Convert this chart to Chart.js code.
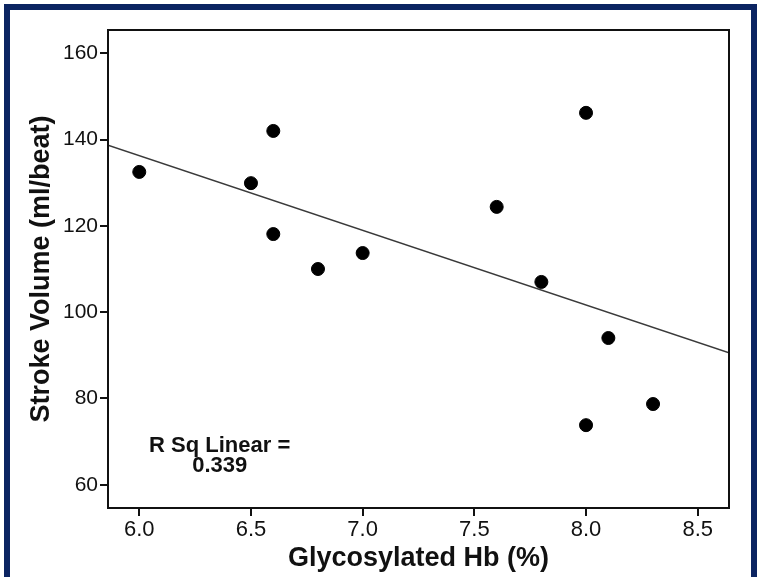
<!DOCTYPE html>
<html>
<head>
<meta charset="utf-8">
<script src="https://cdn.jsdelivr.net/npm/chart.js@4"></script>
<style>
  html, body { margin: 0; padding: 0; background: #ffffff; }
  #wrap { position: relative; width: 761px; height: 577px; overflow: hidden; }
  #c { position: absolute; left: 0; top: 0; }
  #frame { position: absolute; left: 4px; top: 4px; width: 741px; height: 569px;
           border: 6px solid #0b2461; pointer-events: none; }
</style>
</head>
<body>
<div id="wrap">
  <canvas id="c" width="761" height="577"></canvas>
  <div id="frame"></div>
</div>
<script>
// Data
const hbValues = [6.0, 6.5, 6.6, 6.6, 6.8, 7.0, 7.6, 7.8, 8.0, 8.1, 8.0, 8.3];
const strokeVolume = [132.5, 129.9, 142.0, 118.1, 110.0, 113.7, 124.4, 107.0, 146.2, 94.0, 73.8, 78.7];
// Fit line endpoints (read at the plot edges)
const fitX = [5.86, 8.64];
const fitY = [138.7, 90.6];
const xTicks = [6.0, 6.5, 7.0, 7.5, 8.0, 8.5];
const yTicks = [60, 80, 100, 120, 140, 160];
const xTitle = 'Glycosylated Hb (%)';
const yTitle = 'Stroke Volume (ml/beat)';
const annotationLines = ['R Sq Linear =', '0.339'];
const annotationX = 6.36;
const annotationY = [69.0, 64.3];

const points = hbValues.map((x, i) => ({ x: x, y: strokeVolume[i] }));
const fitPoints = fitX.map((x, i) => ({ x: x, y: fitY[i] }));

const boxPlugin = {
  id: 'box',
  afterDraw(chart) {
    const { ctx, chartArea: a } = chart;
    ctx.save();
    ctx.strokeStyle = '#111';
    ctx.lineWidth = 2;
    ctx.strokeRect(a.left, a.top, a.right - a.left, a.bottom - a.top);
    ctx.restore();
  }
};

const annotationPlugin = {
  id: 'rsq',
  afterDatasetsDraw(chart) {
    const { ctx, scales } = chart;
    ctx.save();
    ctx.fillStyle = '#111';
    ctx.font = 'bold 22px "Liberation Sans", Arial, sans-serif';
    ctx.textAlign = 'center';
    ctx.textBaseline = 'middle';
    const px = scales.x.getPixelForValue(annotationX);
    annotationLines.forEach((t, i) => {
      ctx.fillText(t, px, scales.y.getPixelForValue(annotationY[i]));
    });
    ctx.restore();
  }
};

new Chart(document.getElementById('c'), {
  type: 'scatter',
  data: {
    datasets: [
      {
        label: 'Fit',
        type: 'line',
        data: fitPoints,
        borderColor: '#3a3a3a',
        borderWidth: 1.5,
        pointRadius: 0,
        fill: false,
        order: 2
      },
      {
        label: 'Observed',
        data: points,
        backgroundColor: '#000',
        borderColor: '#000',
        pointRadius: 6.5,
        pointHoverRadius: 6.5,
        order: 1
      }
    ]
  },
  options: {
    responsive: false,
    animation: false,
    events: [],
    layout: { padding: { left: 0, top: 30, right: 32, bottom: 0 } },
    plugins: { legend: { display: false }, tooltip: { enabled: false } },
    scales: {
      x: {
        type: 'linear',
        min: 5.86,
        max: 8.64,
        afterBuildTicks(scale) { scale.ticks = xTicks.map(v => ({ value: v })); },
        afterFit(scale) { scale.height = 69; },
        ticks: {
          color: '#111',
          padding: 1,
          font: { family: '"Liberation Sans", Arial, sans-serif', size: 22 },
          callback: v => Number(v).toFixed(1),
          maxRotation: 0
        },
        grid: { drawOnChartArea: false, drawTicks: true, tickLength: 8, color: '#111', lineWidth: 2 },
        border: { display: true, color: '#111', width: 2 },
        title: {
          display: true,
          text: xTitle,
          color: '#111',
          font: { family: '"Liberation Sans", Arial, sans-serif', size: 27, weight: 'bold' },
          padding: { top: 0, bottom: 2 }
        }
      },
      y: {
        type: 'linear',
        min: 54.6,
        max: 165.4,
        afterBuildTicks(scale) { scale.ticks = yTicks.map(v => ({ value: v })); },
        afterFit(scale) { scale.width = 108; },
        ticks: {
          color: '#111',
          padding: 2,
          font: { family: '"Liberation Sans", Arial, sans-serif', size: 21 }
        },
        grid: { drawOnChartArea: false, drawTicks: true, tickLength: 8, color: '#111', lineWidth: 2 },
        border: { display: true, color: '#111', width: 2 },
        title: {
          display: true,
          text: yTitle,
          color: '#111',
          font: { family: '"Liberation Sans", Arial, sans-serif', size: 27, weight: 'bold' },
          padding: { top: 25, bottom: 0 }
        }
      }
    }
  },
  plugins: [boxPlugin, annotationPlugin]
});
</script>
</body>
</html>
